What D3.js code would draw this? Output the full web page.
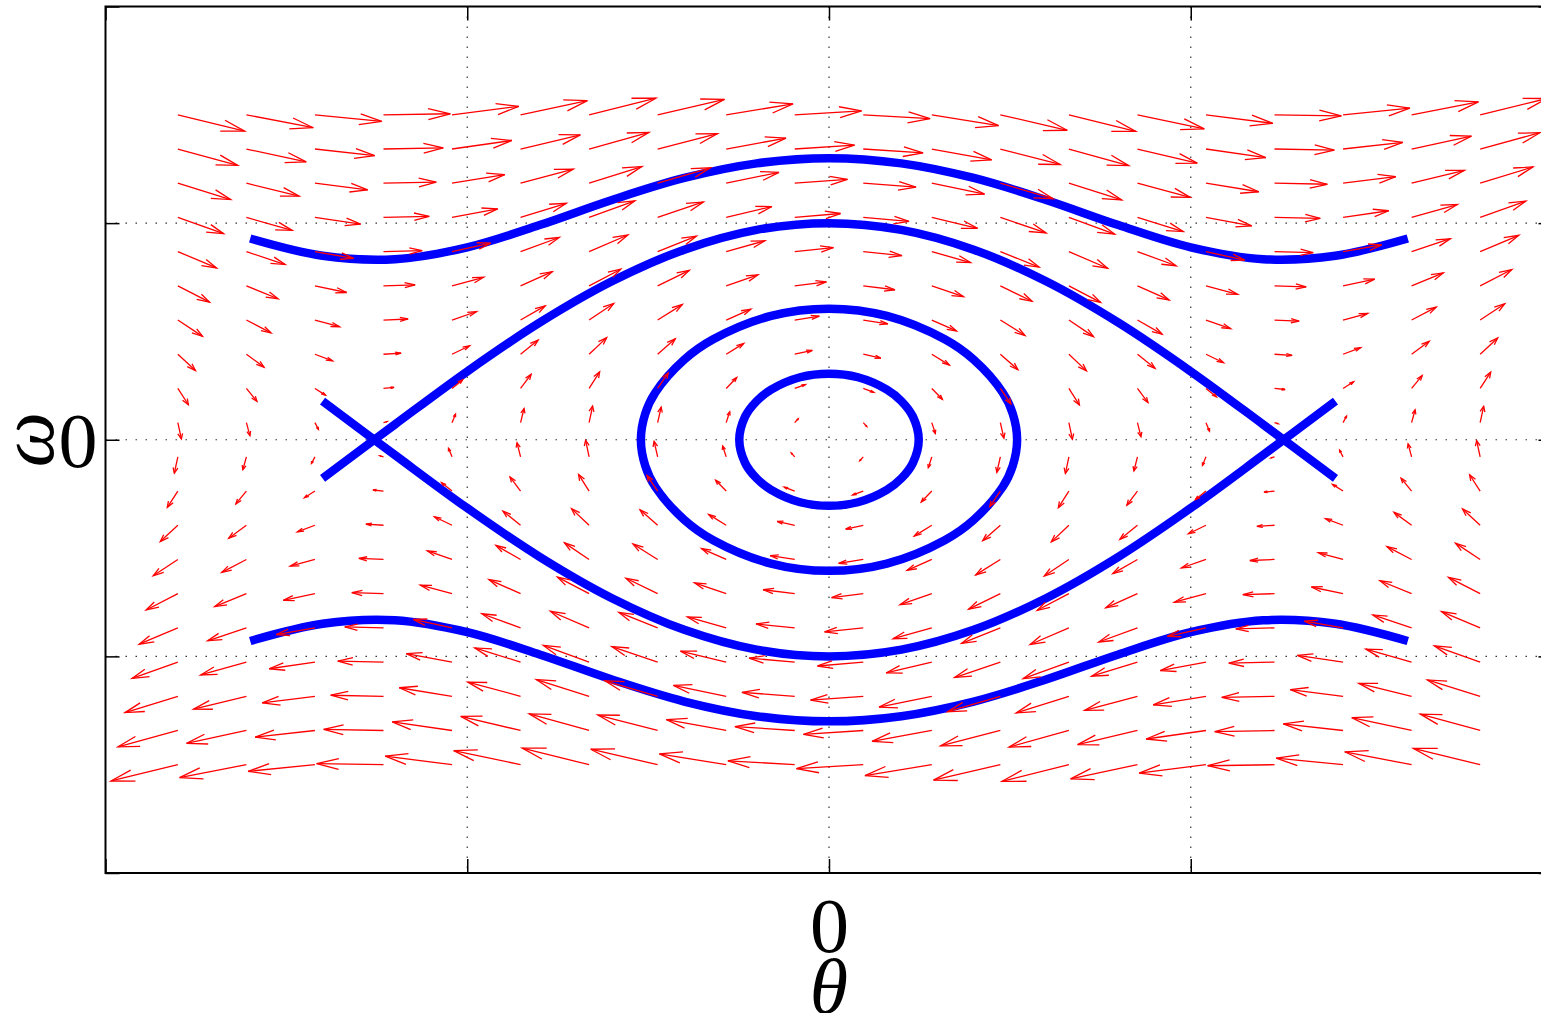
<!DOCTYPE html>
<html>
<head>
<meta charset="utf-8">
<script src="https://cdn.jsdelivr.net/npm/d3@7"></script>
<style>
body { margin: 0; background: #fff; }
svg { display: block; }
</style>
</head>
<body>
<script>
var w = 1541;
var h = 1013;

// axis ticks (only 0 is labelled)
var xTicks = [-5, -2.5, 0, 2.5, 5];
var xTickLabels = ["", "", "0", "", ""];
var yTicks = [-4, -2, 0, 2, 4];
var yTickLabels = ["", "", "0", "", ""];

// quiver grid: theta columns, omega rows, and d(omega)/dt for each column
var thetaGrid = [-4.5, -4.0263, -3.5526, -3.0789, -2.6053, -2.1316, -1.6579, -1.1842, -0.7105, -0.2368,
                 0.2368, 0.7105, 1.1842, 1.6579, 2.1316, 2.6053, 3.0789, 3.5526, 4.0263, 4.5];
var omegaGrid = [-3, -2.6842, -2.3684, -2.0526, -1.7368, -1.4211, -1.1053, -0.7895, -0.4737, -0.1579,
                 0.1579, 0.4737, 0.7895, 1.1053, 1.4211, 1.7368, 2.0526, 2.3684, 2.6842, 3];
var accel = [-0.9775, -0.7736, -0.3995, 0.0627, 0.5110, 0.8468, 0.9962, 0.9262, 0.6523, 0.2346,
             -0.2346, -0.6523, -0.9262, -0.9962, -0.8468, -0.5110, -0.0627, 0.3995, 0.7736, 0.9775];

// rotating trajectories (top and bottom)
var rotTheta = [-4, -3.5, -3, -2.5, -2, -1.5, -1, -0.5, 0, 0.5, 1, 1.5, 2, 2.5, 3, 3.5, 4];
var rotUpper = [1.858, 1.699, 1.667, 1.777, 1.982, 2.214, 2.417, 2.552, 2.6, 2.552, 2.417, 2.214, 1.982, 1.777, 1.667, 1.699, 1.858];
var rotLower = [-1.858, -1.699, -1.667, -1.777, -1.982, -2.214, -2.417, -2.552, -2.6, -2.552, -2.417, -2.214, -1.982, -1.777, -1.667, -1.699, -1.858];

// separatrix
var sepTheta = [-3.5, -3, -2.5, -2, -1.5, -1, -0.5, 0, 0.5, 1, 1.5, 2, 2.5, 3, 3.5];
var sepUpper = [-0.357, 0.141, 0.631, 1.081, 1.463, 1.755, 1.938, 2, 1.938, 1.755, 1.463, 1.081, 0.631, 0.141, -0.357];
var sepLower = [0.357, -0.141, -0.631, -1.081, -1.463, -1.755, -1.938, -2, -1.938, -1.755, -1.463, -1.081, -0.631, -0.141, 0.357];

// closed (libration) orbits
var orbitBigTheta = [1.3, 1.27, 1.2, 1.0, 0.8, 0.4, 0, -0.4, -0.8, -1.0, -1.2, -1.27,
                     -1.3, -1.27, -1.2, -1.0, -0.8, -0.4, 0, 0.4, 0.8, 1.0, 1.2, 1.27];
var orbitBigOmega = [0, 0.24, 0.436, 0.739, 0.927, 1.143, 1.21, 1.143, 0.927, 0.739, 0.436, 0.24,
                     0, -0.24, -0.436, -0.739, -0.927, -1.143, -1.21, -1.143, -0.927, -0.739, -0.436, -0.24];
var orbitSmallTheta = [0.62, 0.58, 0.5, 0.4, 0.2, 0, -0.2, -0.4, -0.5, -0.58,
                       -0.62, -0.58, -0.5, -0.4, -0.2, 0, 0.2, 0.4, 0.5, 0.58];
var orbitSmallOmega = [0, 0.213, 0.357, 0.463, 0.577, 0.61, 0.577, 0.463, 0.357, 0.213,
                       0, -0.213, -0.357, -0.463, -0.577, -0.61, -0.577, -0.463, -0.357, -0.213];

var x = d3.scaleLinear().domain([-5, 5]).range([105.5, 1552.5]);
var y = d3.scaleLinear().domain([-4, 4]).range([873, 6.5]);

var svg = d3.select("body")
            .append("svg")
            .attr("width", w)
            .attr("height", h);

// dotted grid
svg.append("g").selectAll("line")
   .data(xTicks.slice(1, -1))
   .enter()
   .append("line")
   .attr("x1", function(d){ return x(d); })
   .attr("x2", function(d){ return x(d); })
   .attr("y1", y(4)).attr("y2", y(-4))
   .attr("stroke", "#333").attr("stroke-width", 1.2)
   .attr("stroke-dasharray", "1.5,8.5");

svg.append("g").selectAll("line")
   .data(yTicks.slice(1, -1))
   .enter()
   .append("line")
   .attr("y1", function(d){ return y(d); })
   .attr("y2", function(d){ return y(d); })
   .attr("x1", x(-5)).attr("x2", x(5))
   .attr("stroke", "#333").attr("stroke-width", 1.2)
   .attr("stroke-dasharray", "1.5,8.5");

// trajectories
var line = d3.line()
  .x(function(d){ return x(d[0]); })
  .y(function(d){ return y(d[1]); })
  .curve(d3.curveCatmullRom);

var closedLine = d3.line()
  .x(function(d){ return x(d[0]); })
  .y(function(d){ return y(d[1]); })
  .curve(d3.curveCatmullRomClosed);

function pairs(a, b){
  return a.map(function(v, i){ return [v, b[i]]; });
}

var openCurves = [
  pairs(rotTheta, rotUpper),
  pairs(rotTheta, rotLower),
  pairs(sepTheta, sepUpper),
  pairs(sepTheta, sepLower)
];
var closedCurves = [
  pairs(orbitBigTheta, orbitBigOmega),
  pairs(orbitSmallTheta, orbitSmallOmega)
];

svg.append("g").selectAll("path")
   .data(openCurves)
   .enter()
   .append("path")
   .attr("d", line)
   .attr("fill", "none")
   .attr("stroke", "#0000ff")
   .attr("stroke-width", 8.5)
   .attr("stroke-linecap", "butt");

svg.append("g").selectAll("path")
   .data(closedCurves)
   .enter()
   .append("path")
   .attr("d", closedLine)
   .attr("fill", "none")
   .attr("stroke", "#0000ff")
   .attr("stroke-width", 8.5);

// quiver (arrow heads built in data units like matlab does)
var scale = 0.154, alpha = 0.33, beta = 0.33;
var arrows = [];
omegaGrid.forEach(function(om){
  thetaGrid.forEach(function(th, i){
    var u = om * scale, v = accel[i] * scale;
    var hx = th + u, hy = om + v;
    arrows.push({
      shaft: [[th, om], [hx, hy]],
      head: [[hx - alpha * (u + beta * v), hy - alpha * (v - beta * u)],
             [hx, hy],
             [hx - alpha * (u - beta * v), hy - alpha * (v + beta * u)]]
    });
  });
});

var plain = d3.line()
  .x(function(d){ return x(d[0]); })
  .y(function(d){ return y(d[1]); });

var q = svg.append("g")
   .attr("fill", "none")
   .attr("stroke", "#ff0000")
   .attr("stroke-width", 1.3);

q.selectAll("path.shaft")
 .data(arrows)
 .enter()
 .append("path")
 .attr("class", "shaft")
 .attr("d", function(d){ return plain(d.shaft); });

q.selectAll("path.head")
 .data(arrows)
 .enter()
 .append("path")
 .attr("class", "head")
 .attr("d", function(d){ return plain(d.head); });

// axes with inward ticks
var fontSize = 78;

var xAxis = svg.append("g")
   .attr("transform", "translate(0," + y(-4) + ")")
   .call(d3.axisBottom(x).tickValues(xTicks)
     .tickFormat(function(d, i){ return xTickLabels[i]; })
     .tickSizeInner(-14).tickSizeOuter(0).tickPadding(24));

var yAxis = svg.append("g")
   .attr("transform", "translate(" + x(-5) + ",0)")
   .call(d3.axisLeft(y).tickValues(yTicks)
     .tickFormat(function(d, i){ return yTickLabels[i]; })
     .tickSizeInner(-14).tickSizeOuter(0).tickPadding(8));

svg.append("g")
   .attr("transform", "translate(0," + y(4) + ")")
   .call(d3.axisTop(x).tickValues(xTicks).tickFormat("")
     .tickSizeInner(-14).tickSizeOuter(0));

svg.append("g")
   .attr("transform", "translate(" + x(5) + ",0)")
   .call(d3.axisRight(y).tickValues(yTicks).tickFormat("")
     .tickSizeInner(-14).tickSizeOuter(0));

svg.selectAll(".domain").remove();
svg.selectAll(".tick line").attr("stroke", "#000").attr("stroke-width", 1.5);
svg.selectAll(".tick text")
   .attr("font-family", "'Liberation Serif', 'DejaVu Serif', serif")
   .attr("font-size", fontSize)
   .attr("fill", "#000");
yAxis.selectAll(".tick text").attr("dy", "0.34em");

// box
svg.append("rect")
   .attr("x", x(-5)).attr("y", y(4))
   .attr("width", x(5) - x(-5)).attr("height", y(-4) - y(4))
   .attr("fill", "none").attr("stroke", "#000").attr("stroke-width", 2);

// axis labels
svg.append("text")
   .attr("x", x(0)).attr("y", 1013)
   .attr("text-anchor", "middle")
   .attr("font-family", "'Liberation Serif', 'DejaVu Serif', serif")
   .attr("font-style", "italic")
   .attr("font-size", fontSize)
   .text("θ");

svg.append("text")
   .attr("transform", "translate(53," + y(0) + ") rotate(-90)")
   .attr("text-anchor", "middle")
   .attr("font-family", "'Liberation Serif', 'DejaVu Serif', serif")
   .attr("font-style", "italic")
   .attr("font-size", fontSize)
   .text("ω");
</script>
</body>
</html>
